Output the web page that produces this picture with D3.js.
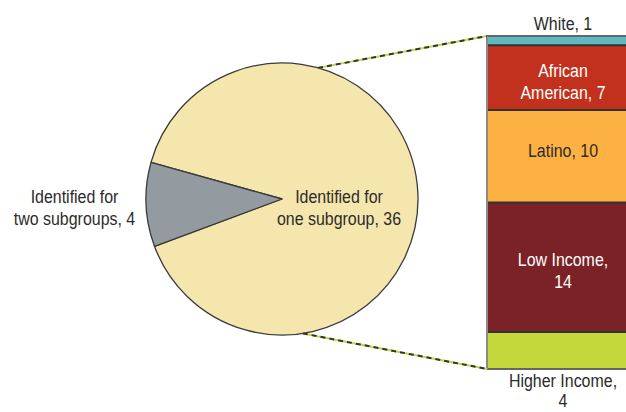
<!DOCTYPE html>
<html>
<head>
<meta charset="utf-8">
<script src="https://cdn.jsdelivr.net/npm/d3@7"></script>
<style>
  html, body { margin: 0; padding: 0; background: #fff; }
  svg { display: block; }
  text { font-family: "Liberation Sans", Arial, sans-serif; font-size: 19px; }
</style>
</head>
<body>
<svg id="chart" width="626" height="412"></svg>
<script>
// ---- data ----
const pieCategories = ["Identified for one subgroup", "Identified for two subgroups"];
const pieValues = [36, 4];
const pieLabels = [["Identified for", "one subgroup, 36"], ["Identified for", "two subgroups, 4"]];

const barCategories = ["White", "African American", "Latino", "Low Income", "Higher Income"];
const barValues = [1, 7, 10, 14, 4];
const barLabels = [["White, 1"], ["African", "American, 7"], ["Latino, 10"], ["Low Income,", "14"], ["Higher Income,", "4"]];

// ---- styles ----
const pieColors = ["#f5e6ad", "#939aa0"];
const barColors = ["#5fb9c2", "#c1311e", "#fdb143", "#7b2226", "#c3d93b"];
const barTextColors = ["#2b2b2b", "#ffffff", "#2b2b2b", "#ffffff", "#2b2b2b"];
const dark = "#2b2b2b";
const condense = 0.84;

const svg = d3.select("#chart");

function label(x, yb, lines, color, lh) {
  const g = svg.append("g").attr("transform", `translate(${x},${yb}) scale(${condense},1)`);
  const t = g.append("text").attr("text-anchor", "middle").attr("fill", color).attr("x", 0).attr("y", 0);
  lines.forEach((l, j) => {
    t.append("tspan").attr("x", 0).attr("dy", j === 0 ? 0 : (lh || 22)).text(l);
  });
}

// ---- pie ----
const cx = 282, cy = 199, R = 136;
const deg = Math.PI / 180;
const start = 285.6 * deg;
const pie = d3.pie().sort(null).startAngle(start).endAngle(start + 2 * Math.PI);
const arcs = pie(pieValues);
const arc = d3.arc().innerRadius(0).outerRadius(R);

const pg = svg.append("g").attr("transform", `translate(${cx},${cy})`);
pg.selectAll("path").data(arcs).join("path")
  .attr("d", arc)
  .attr("fill", (d, i) => pieColors[i])
  .attr("stroke", "#3a3a3a")
  .attr("stroke-width", 1.3)
  .attr("stroke-linejoin", "round");

// pie labels
const pieLabelPos = [[339, 203], [74.5, 203]];
pieLabels.forEach((lines, i) => label(pieLabelPos[i][0], pieLabelPos[i][1], lines, dark));

// ---- stacked bar ----
const total = d3.sum(barValues);
const y = d3.scaleLinear().domain([0, total]).range([36, 369]);
const barX = 487, barW = 152;
const stack = [];
let acc = 0;
barValues.forEach((v, i) => { stack.push({ i, v, y0: acc, y1: acc + v }); acc += v; });

const bg = svg.append("g");
bg.selectAll("rect").data(stack).join("rect")
  .attr("x", barX)
  .attr("y", d => y(d.y0))
  .attr("width", barW)
  .attr("height", d => y(d.y1) - y(d.y0))
  .attr("fill", d => barColors[d.i]);

bg.selectAll("line.sep").data(stack.slice(1)).join("line")
  .attr("class", "sep")
  .attr("x1", barX).attr("x2", barX + barW)
  .attr("y1", d => y(d.y0)).attr("y2", d => y(d.y0))
  .attr("stroke", "#333").attr("stroke-width", 2);
[0, total].forEach(v => {
  bg.append("line")
    .attr("x1", barX).attr("x2", barX + barW)
    .attr("y1", y(v)).attr("y2", y(v))
    .attr("stroke", "#666").attr("stroke-width", 2);
});
bg.append("line")
  .attr("x1", barX).attr("x2", barX)
  .attr("y1", y(0)).attr("y2", y(total))
  .attr("stroke", "#8a8a8a").attr("stroke-width", 2);

// bar labels
const labelX = 563;
stack.forEach(d => {
  const lines = barLabels[d.i];
  let baseY, lh = 22;
  if (d.i === 0) baseY = y(d.y0) - 6;
  else if (d.i === stack.length - 1) { baseY = y(d.y1) + 18; lh = 20; }
  else {
    const mid = (y(d.y0) + y(d.y1)) / 2;
    baseY = lines.length === 1 ? mid + 1 : mid - 1;
  }
  label(labelX, baseY, lines, barTextColors[d.i], lh);
});

// ---- connectors ----
const topA = 15.4 * deg, botA = 171.2 * deg;
const pt = a => [cx + R * Math.sin(a), cy - R * Math.cos(a)];
const connectors = [
  [pt(topA), [barX, y(0)]],
  [pt(botA), [barX, y(total)]]
];
const cg = svg.append("g");
connectors.forEach(c => {
  cg.append("line")
    .attr("x1", c[0][0]).attr("y1", c[0][1]).attr("x2", c[1][0]).attr("y2", c[1][1])
    .attr("stroke", "#c3d93b").attr("stroke-width", 2);
  cg.append("line")
    .attr("x1", c[0][0]).attr("y1", c[0][1]).attr("x2", c[1][0]).attr("y2", c[1][1])
    .attr("stroke", "#333").attr("stroke-width", 2).attr("stroke-dasharray", "5,4");
});
</script>
</body>
</html>
